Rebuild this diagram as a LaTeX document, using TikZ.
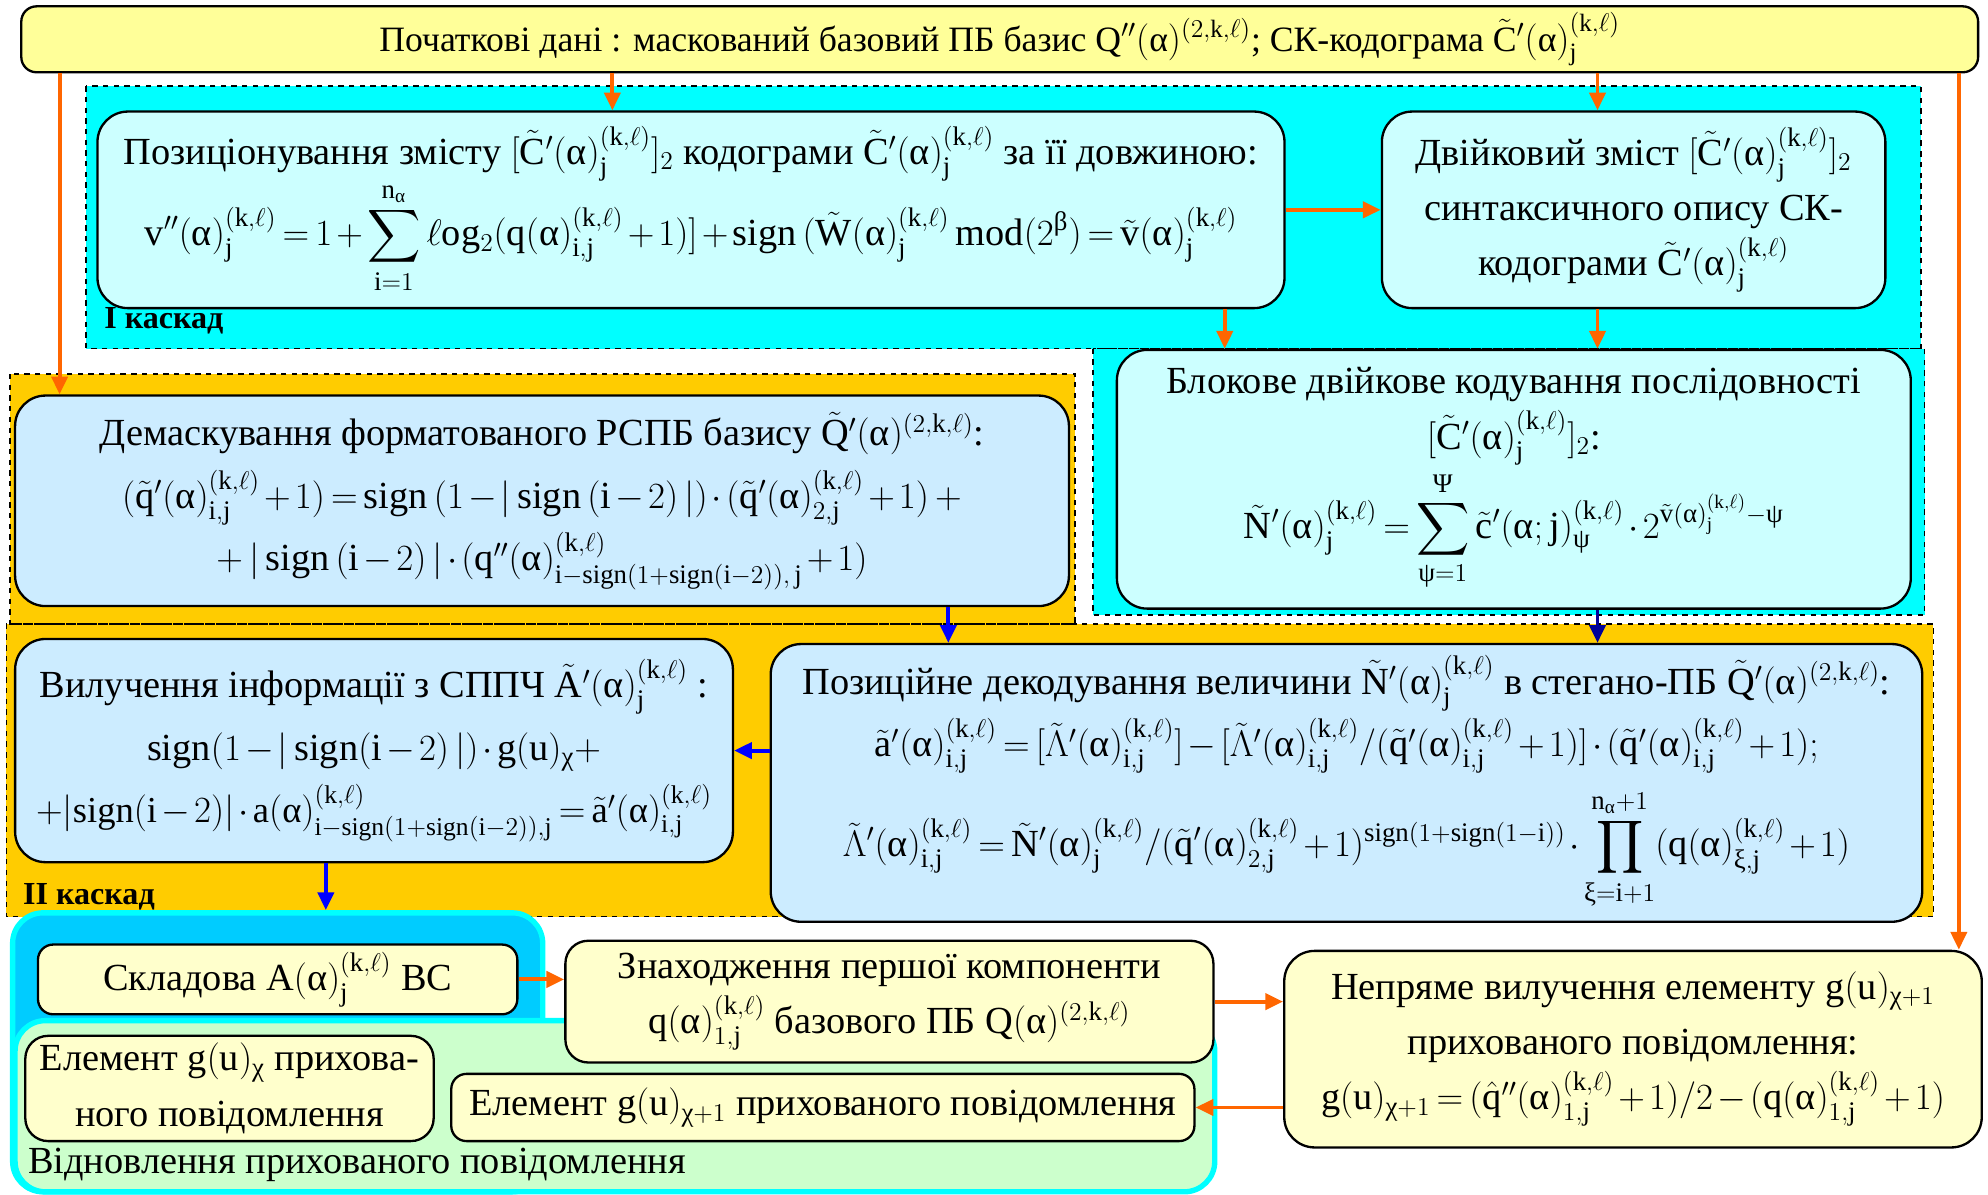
\documentclass[tikz,border=0pt]{standalone}
\usepackage{amsmath}
\usepackage{fontspec}
\setmainfont{Liberation Serif}
\usetikzlibrary{arrows.meta}
\definecolor{cascI}{RGB}{0,255,255}
\definecolor{cascII}{RGB}{255,204,0}
\definecolor{boxcyan}{RGB}{204,255,255}
\definecolor{boxblue}{RGB}{204,236,255}
\definecolor{boxyel}{RGB}{255,255,204}
\definecolor{topyel}{RGB}{255,255,153}
\definecolor{arrorange}{RGB}{255,102,0}
\definecolor{panelblue}{RGB}{0,204,255}
\definecolor{panelgreen}{RGB}{204,255,204}
\definecolor{navyarr}{RGB}{0,0,153}

% upright letters in formulas
\newcount\lettcnt
\lettcnt=`a
\loop\mathcode\lettcnt=\numexpr"7000+\lettcnt\relax\advance\lettcnt by 1 \ifnum\lettcnt<123 \repeat
\lettcnt=`A
\loop\mathcode\lettcnt=\numexpr"7000+\lettcnt\relax\advance\lettcnt by 1 \ifnum\lettcnt<91 \repeat
\newcommand{\alf}{\text{α}}
\newcommand{\kl}{(k,\ell)}
\newcommand{\boxfont}{\fontsize{21.5}{31}\selectfont\medmuskip=2mu\thickmuskip=3mu}

\begin{document}
\begin{tikzpicture}[
    x=0.025cm, y=-0.025cm,
    box/.style={draw, line width=1.3pt, rounded corners=0.6cm, inner sep=0pt, align=center, font=\boxfont},
    smallbox/.style={box, rounded corners=0.3cm},
    casc/.style={draw, dashed, line width=0.9pt},
    panel/.style={draw=cascI, line width=3pt, rounded corners=0.6cm, inner sep=0pt},
    oarr/.style={-{Triangle[length=10pt,width=9pt]}, line width=2.2pt, arrorange},
    barr/.style={-{Triangle[length=10pt,width=9pt]}, line width=2.2pt, blue},
    lbl/.style={anchor=west, inner sep=0pt, font=\fontsize{18}{22}\selectfont\bfseries}
  ]
    \useasboundingbox (0,0) rectangle (1568,942);
    % cascade areas
    \fill[cascI] (68,68) rectangle (1515,275);
    \fill[cascI] (862,275) rectangle (1518,485);
    \draw[casc] (68,68) rectangle (1515,275);
    \draw[casc] (862,275) rectangle (1518,485);
    \fill[cascII] (8,295) rectangle (848,492);
    \fill[cascII] (5,492) rectangle (1525,723);
    \draw[casc] (8,295) rectangle (848,492);
    \draw[casc] (5,492) rectangle (1525,723);
    \node[lbl] (kI) at (82,253) {I каскад};
    \node[lbl] (kII) at (18,707) {II каскад};

    \node[smallbox, fill=topyel, font=\fontsize{20}{24}\selectfont, minimum width=38.575cm, minimum height=1.3cm] (top) at (788.5,31)
      {Початкові дані : маскований базовий ПБ базис $Q''(\alf)^{(2,k,\ell)}$; СК-кодограма $\tilde{C}'(\alf)^{\kl}_{j}$};
    \node[box, fill=boxcyan, minimum width=23.4cm, minimum height=3.875cm] (pos) at (545,165.5)
      {Позиціонування змісту $[\tilde{C}'(\alf)^{\kl}_j]_2$ кодограми $\tilde{C}'(\alf)^{\kl}_j$ за її довжиною:\\
       $\displaystyle v''(\alf)^{\kl}_j=1+\sum_{i=1}^{n_{\alf}}\ell og_2(q(\alf)^{\kl}_{i,j}+1)]+sign\,(\tilde{W}(\alf)^{\kl}_j\,mod(2^{\text{β}})=\tilde{v}(\alf)^{\kl}_j$};
    \node[box, fill=boxcyan, minimum width=9.925cm, minimum height=3.875cm] (dvi) at (1288.5,165.5)
      {Двійковий зміст $[\tilde{C}'(\alf)^{\kl}_j]_2$\\ синтаксичного опису СК-\\ кодограми $\tilde{C}'(\alf)^{\kl}_j$};
    \node[box, fill=boxcyan, minimum width=15.65cm, minimum height=5.1cm] (blk) at (1194,378)
      {Блокове двійкове кодування послідовності\\ $[\tilde{C}'(\alf)^{\kl}_j]_2$:\\[2pt]
       $\displaystyle \tilde{N}'(\alf)^{\kl}_j=\sum_{\text{ψ}=1}^{\text{Ψ}}\tilde{c}'(\alf;j)^{\kl}_{\text{ψ}}\cdot 2^{\tilde{v}(\alf)^{\kl}_j-\text{ψ}}$};
    \node[box, fill=boxblue, minimum width=20.775cm, minimum height=4.15cm] (dem) at (427.5,395)
      {Демаскування форматованого РСПБ базису $\tilde{Q}'(\alf)^{(2,k,\ell)}$:\\[4pt]
       $(\tilde{q}'(\alf)^{\kl}_{i,j}+1)=sign\,(1-|\,sign\,(i-2)\,|)\cdot(\tilde{q}'(\alf)^{\kl}_{2,j}+1)\,+$\\[4pt]
       $+\,|\,sign\,(i-2)\,|\cdot(q''(\alf)^{\kl}_{i-sign(1+sign(i-2)),\,j}+1)$};
    \node[box, fill=boxblue, minimum width=14.15cm, minimum height=4.4cm] (vyl) at (295,592)
      {Вилучення інформації з СППЧ $\tilde{A}'(\alf)^{\kl}_j$ :\\[4pt]
       $sign(1-|\,sign(i-2)\,|)\cdot g(u)_{\text{χ}}+$\\[4pt]
       {\fontsize{20.5}{31}\selectfont$+|sign(i-2)|\cdot a(\alf)^{\kl}_{i-sign(1+sign(i-2)),j}=\tilde{a}'(\alf)^{\kl}_{i,j}$}};
    \node[box, fill=boxblue, minimum width=22.7cm, minimum height=5.475cm] (dek) at (1062,617.5)
      {Позиційне декодування величини $\tilde{N}'(\alf)^{\kl}_j$ в стегано-ПБ $\tilde{Q}'(\alf)^{(2,k,\ell)}$:\\[4pt]
       $\tilde{a}'(\alf)^{\kl}_{i,j}=[\tilde{\Lambda}'(\alf)^{\kl}_{i,j}]-[\tilde{\Lambda}'(\alf)^{\kl}_{i,j}/(\tilde{q}'(\alf)^{\kl}_{i,j}+1)]\cdot(\tilde{q}'(\alf)^{\kl}_{i,j}+1);$\\[8pt]
       $\displaystyle \tilde{\Lambda}'(\alf)^{\kl}_{i,j}=\tilde{N}'(\alf)^{\kl}_j/(\tilde{q}'(\alf)^{\kl}_{2,j}+1)^{sign(1+sign(1-i))}\cdot\prod_{\text{ξ}=i+1}^{n_{\alf}+1}(q(\alf)^{\kl}_{\text{ξ},j}+1)$};

    % recovery of the hidden message
    \node[panel, fill=panelblue, minimum width=10.45cm, minimum height=5.5cm] (vpan) at (219,830) {};
    \node[panel, fill=panelgreen, minimum width=23.65cm, minimum height=3.375cm] (vidn) at (485,872.5) {};
    \node[anchor=west, inner sep=0pt, font=\fontsize{21.5}{25}\selectfont] (vidnl) at (22,919) {Відновлення прихованого повідомлення};
    \node[smallbox, fill=boxyel, minimum width=9.45cm, minimum height=1.375cm] (skl) at (219,772.5) {Складова $A(\alf)^{\kl}_j$ ВС};
    \node[box, fill=boxyel, rounded corners=0.45cm, minimum width=12.775cm, minimum height=2.4cm] (zna) at (701.5,790)
      {Знаходження першої компоненти\\ $q(\alf)^{\kl}_{1,j}$ базового ПБ $Q(\alf)^{(2,k,\ell)}$};
    \node[box, fill=boxyel, minimum width=13.75cm, minimum height=3.875cm] (nep) at (1288,827.5)
      {Непряме вилучення елементу $g(u)_{\text{χ}+1}$\\ прихованого повідомлення:\\
       $g(u)_{\text{χ}+1}=(\hat{q}''(\alf)^{\kl}_{1,j}+1)/2-(q(\alf)^{\kl}_{1,j}+1)$};
    \node[box, fill=boxyel, rounded corners=0.45cm, minimum width=8.05cm, minimum height=2.075cm] (elx) at (181,858.5)
      {Елемент $g(u)_{\text{χ}}$ прихова-\\ ного повідомлення};
    \node[smallbox, fill=boxyel, minimum width=14.65cm, minimum height=1.325cm] (ely) at (649,873.5)
      {Елемент $g(u)_{\text{χ}+1}$ прихованого повідомлення};

    \draw[oarr] (top.south -| 483,0) -- (pos.north -| 483,0);
    \draw[oarr] (top.south -| 1260,0) -- (dvi.north -| 1260,0);
    \draw[oarr] (top.south -| 47,0) -- (dem.north -| 47,0);
    \draw[oarr] (top.south -| 1545,0) -- (nep.north -| 1545,0);
    \draw[oarr] (pos.east) -- (dvi.west |- pos.east);
    \draw[oarr] (pos.south -| 966,0) -- (blk.north -| 966,0);
    \draw[oarr] (dvi.south -| 1260,0) -- (blk.north -| 1260,0);
    \draw[barr] (dem.south -| 748,0) -- (dek.north -| 748,0);
    \draw[barr, navyarr] (blk.south -| 1260,0) -- (dek.north -| 1260,0);
    \draw[barr] (dek.west |- vyl.east) -- (vyl.east);
    \draw[barr] (vyl.south -| 257,0) -- (vpan.north -| 257,0);
    \draw[oarr] (skl.east) -- (zna.west |- skl.east);
    \draw[oarr] (zna.east) -- (nep.west |- zna.east);
    \draw[oarr] (nep.west |- ely.east) -- (ely.east);
  \end{tikzpicture}
\end{document}
